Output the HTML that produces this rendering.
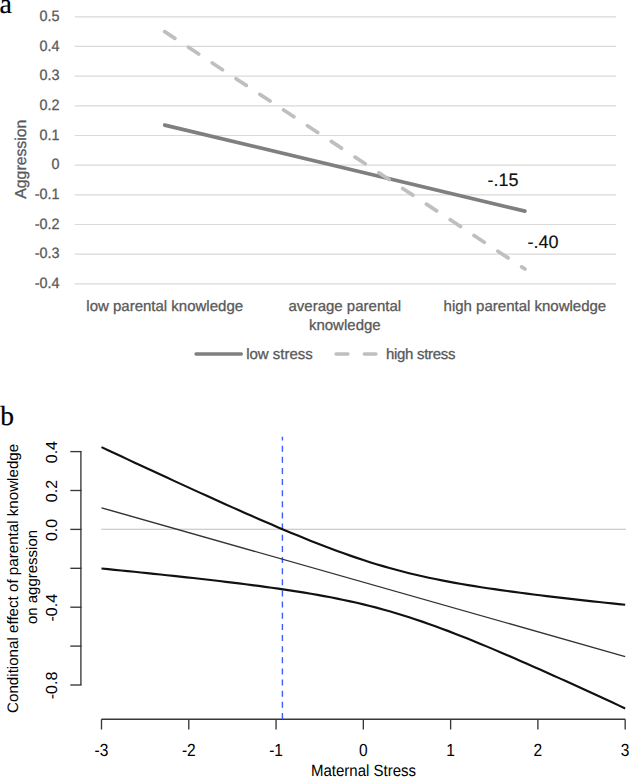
<!DOCTYPE html>
<html><head><meta charset="utf-8"><style>
html,body{margin:0;padding:0;background:#fff;}
body{width:630px;height:777px;overflow:hidden;position:relative;}
svg{position:absolute;left:0;top:0;}
text{text-rendering:geometricPrecision;}
</style></head><body>
<svg width="630" height="777" viewBox="0 0 630 777">
<rect width="630" height="777" fill="#fff"/>
<text x="-0.4" y="12.8" font-family="Liberation Serif" font-size="28" fill="#000" stroke="#000" stroke-width="0.15">a</text>
<g stroke="#d9d9d9" stroke-width="1.2"><line x1="74.7" y1="16.80" x2="616.2" y2="16.80"/><line x1="74.7" y1="46.47" x2="616.2" y2="46.47"/><line x1="74.7" y1="76.14" x2="616.2" y2="76.14"/><line x1="74.7" y1="105.81" x2="616.2" y2="105.81"/><line x1="74.7" y1="135.48" x2="616.2" y2="135.48"/><line x1="74.7" y1="165.15" x2="616.2" y2="165.15"/><line x1="74.7" y1="194.82" x2="616.2" y2="194.82"/><line x1="74.7" y1="224.49" x2="616.2" y2="224.49"/><line x1="74.7" y1="254.16" x2="616.2" y2="254.16"/><line x1="74.7" y1="283.83" x2="616.2" y2="283.83"/></g>
<g font-family="Liberation Sans" font-size="15" fill="#595959" stroke="#595959" stroke-width="0.3" text-anchor="end"><text transform="translate(59.5,21.10) scale(0.96,1)">0.5</text><text transform="translate(59.5,50.77) scale(0.96,1)">0.4</text><text transform="translate(59.5,80.44) scale(0.96,1)">0.3</text><text transform="translate(59.5,110.11) scale(0.96,1)">0.2</text><text transform="translate(59.5,139.78) scale(0.96,1)">0.1</text><text transform="translate(59.5,169.45) scale(0.96,1)">0</text><text transform="translate(59.5,199.12) scale(0.96,1)">-0.1</text><text transform="translate(59.5,228.79) scale(0.96,1)">-0.2</text><text transform="translate(59.5,258.46) scale(0.96,1)">-0.3</text><text transform="translate(59.5,288.13) scale(0.96,1)">-0.4</text></g>
<text transform="translate(26.4,159.2) rotate(-90)" font-family="Liberation Sans" font-size="15.8" fill="#595959" stroke="#595959" stroke-width="0.3" text-anchor="middle">Aggression</text>
<g font-family="Liberation Sans" font-size="15" fill="#595959" stroke="#595959" stroke-width="0.3" text-anchor="middle">
<text x="164.7" y="310.6">low parental knowledge</text>
<text x="344.8" y="310.5">average parental</text>
<text x="344.8" y="330.2">knowledge</text>
<text x="524.9" y="310.6">high parental knowledge</text>
</g>
<line x1="164.7" y1="125.10" x2="524.9" y2="211.14" stroke="#7f7f7f" stroke-width="3.7" stroke-linecap="round"/>
<line x1="164.7" y1="31.63" x2="524.9" y2="269.00" stroke="#bfbfbf" stroke-width="3.7" stroke-linecap="round" stroke-dasharray="12.2 16.3"/>
<g font-family="Liberation Sans" font-size="18" fill="#111" stroke="#111" stroke-width="0.15">
<text x="487.4" y="185.5">-.15</text>
<text x="527.6" y="248.4">-.40</text>
</g>
<line x1="196" y1="354" x2="241.4" y2="354" stroke="#7f7f7f" stroke-width="3.3" stroke-linecap="round"/>
<line x1="336" y1="354" x2="348" y2="354" stroke="#bfbfbf" stroke-width="3.3" stroke-linecap="round"/>
<line x1="364.3" y1="354" x2="376" y2="354" stroke="#bfbfbf" stroke-width="3.3" stroke-linecap="round"/>
<g font-family="Liberation Sans" font-size="15" fill="#595959" stroke="#595959" stroke-width="0.3">
<text x="246.2" y="358.8">low stress</text>
<text x="386" y="358.8" textLength="69.5">high stress</text>
</g>
<text x="0.3" y="425" font-family="Liberation Serif" font-size="27.5" fill="#000" stroke="#000" stroke-width="0.25">b</text>
<line x1="101.3" y1="529.25" x2="625.9" y2="529.25" stroke="#bebebe" stroke-width="1.2"/>
<g stroke="#383838" stroke-width="1.35" fill="none">
<line x1="80.9" y1="451.60" x2="80.9" y2="685.00"/>
<line x1="70.3" y1="451.60" x2="81.6" y2="451.60"/><line x1="70.3" y1="490.50" x2="81.6" y2="490.50"/><line x1="70.3" y1="529.40" x2="81.6" y2="529.40"/><line x1="70.3" y1="568.30" x2="81.6" y2="568.30"/><line x1="70.3" y1="607.20" x2="81.6" y2="607.20"/><line x1="70.3" y1="646.10" x2="81.6" y2="646.10"/><line x1="70.3" y1="685.00" x2="81.6" y2="685.00"/>
<line x1="101.50" y1="719.2" x2="625.18" y2="719.2"/>
<line x1="101.50" y1="719.2" x2="101.50" y2="729.5"/><line x1="188.78" y1="719.2" x2="188.78" y2="729.5"/><line x1="276.06" y1="719.2" x2="276.06" y2="729.5"/><line x1="363.34" y1="719.2" x2="363.34" y2="729.5"/><line x1="450.62" y1="719.2" x2="450.62" y2="729.5"/><line x1="537.90" y1="719.2" x2="537.90" y2="729.5"/><line x1="625.18" y1="719.2" x2="625.18" y2="729.5"/>
</g>
<g font-family="Liberation Sans" font-size="16" fill="#000"><text transform="translate(57.1,452.10) rotate(-90)" text-anchor="middle">0.4</text><text transform="translate(57.1,491.00) rotate(-90)" text-anchor="middle">0.2</text><text transform="translate(57.1,529.90) rotate(-90)" text-anchor="middle">0.0</text><text transform="translate(57.1,607.70) rotate(-90)" text-anchor="middle">-0.4</text><text transform="translate(57.1,685.50) rotate(-90)" text-anchor="middle">-0.8</text></g>
<g font-family="Liberation Sans" font-size="16" fill="#000"><text transform="translate(101.50,756) scale(0.97,1.1)" text-anchor="middle">-3</text><text transform="translate(188.78,756) scale(0.97,1.1)" text-anchor="middle">-2</text><text transform="translate(276.06,756) scale(0.97,1.1)" text-anchor="middle">-1</text><text transform="translate(363.34,756) scale(0.97,1.1)" text-anchor="middle">0</text><text transform="translate(450.62,756) scale(0.97,1.1)" text-anchor="middle">1</text><text transform="translate(537.90,756) scale(0.97,1.1)" text-anchor="middle">2</text><text transform="translate(625.18,756) scale(0.97,1.1)" text-anchor="middle">3</text></g>
<text transform="translate(363.5,775.6) scale(1,1.08)" font-family="Liberation Sans" font-size="15" fill="#000" text-anchor="middle">Maternal Stress</text>
<g font-family="Liberation Sans" font-size="15" fill="#000" text-anchor="middle">
<text transform="translate(18.1,578.4) rotate(-90)" font-size="15.15">Conditional effect of parental knowledge</text>
<text transform="translate(36.7,577) rotate(-90)">on aggression</text>
</g>
<line x1="282.4" y1="719" x2="282.4" y2="436.7" stroke="#3d5dff" stroke-width="1.4" stroke-dasharray="6 5.14"/>
<polyline points="101.50,447.10 108.05,450.17 114.59,453.23 121.14,456.30 127.68,459.36 134.23,462.41 140.78,465.46 147.32,468.50 153.87,471.54 160.41,474.57 166.96,477.60 173.51,480.62 180.05,483.63 186.60,486.64 193.14,489.63 199.69,492.62 206.24,495.60 212.78,498.57 219.33,501.52 225.87,504.46 232.42,507.39 238.97,510.31 245.51,513.20 252.06,516.08 258.60,518.95 265.15,521.79 271.70,524.60 278.24,527.40 284.79,530.16 291.33,532.90 297.88,535.60 304.43,538.26 310.97,540.89 317.52,543.48 324.06,546.01 330.61,548.50 337.16,550.94 343.70,553.31 350.25,555.62 356.79,557.87 363.34,560.05 369.89,562.16 376.43,564.19 382.98,566.14 389.52,568.02 396.07,569.82 402.62,571.54 409.16,573.19 415.71,574.76 422.25,576.26 428.80,577.70 435.35,579.07 441.89,580.38 448.44,581.63 454.98,582.84 461.53,583.99 468.08,585.10 474.62,586.17 481.17,587.21 487.71,588.21 494.26,589.17 500.81,590.11 507.35,591.03 513.90,591.91 520.44,592.78 526.99,593.63 533.54,594.46 540.08,595.27 546.63,596.07 553.17,596.85 559.72,597.62 566.27,598.38 572.81,599.13 579.36,599.87 585.90,600.59 592.45,601.31 599.00,602.02 605.54,602.73 612.09,603.42 618.63,604.11 625.18,604.80" fill="none" stroke="#111" stroke-width="2.15"/>
<polyline points="101.50,568.50 108.05,569.15 114.59,569.81 121.14,570.46 127.68,571.12 134.23,571.79 140.78,572.46 147.32,573.14 153.87,573.82 160.41,574.51 166.96,575.20 173.51,575.90 180.05,576.61 186.60,577.32 193.14,578.05 199.69,578.78 206.24,579.52 212.78,580.27 219.33,581.04 225.87,581.82 232.42,582.61 238.97,583.41 245.51,584.24 252.06,585.08 258.60,585.93 265.15,586.81 271.70,587.72 278.24,588.64 284.79,589.60 291.33,590.58 297.88,591.60 304.43,592.66 310.97,593.75 317.52,594.88 324.06,596.07 330.61,597.30 337.16,598.58 343.70,599.93 350.25,601.34 356.79,602.81 363.34,604.35 369.89,605.96 376.43,607.65 382.98,609.42 389.52,611.26 396.07,613.18 402.62,615.18 409.16,617.25 415.71,619.40 422.25,621.62 428.80,623.90 435.35,626.25 441.89,628.66 448.44,631.13 454.98,633.64 461.53,636.21 468.08,638.82 474.62,641.47 481.17,644.15 487.71,646.87 494.26,649.63 500.81,652.41 507.35,655.21 513.90,658.05 520.44,660.90 526.99,663.77 533.54,666.66 540.08,669.57 546.63,672.49 553.17,675.43 559.72,678.38 566.27,681.34 572.81,684.31 579.36,687.29 585.90,690.29 592.45,693.29 599.00,696.30 605.54,699.31 612.09,702.34 618.63,705.37 625.18,708.40" fill="none" stroke="#111" stroke-width="2.15"/>
<polyline points="101.50,507.80 625.18,656.60" fill="none" stroke="#333" stroke-width="1.4"/>
</svg>
</body></html>
